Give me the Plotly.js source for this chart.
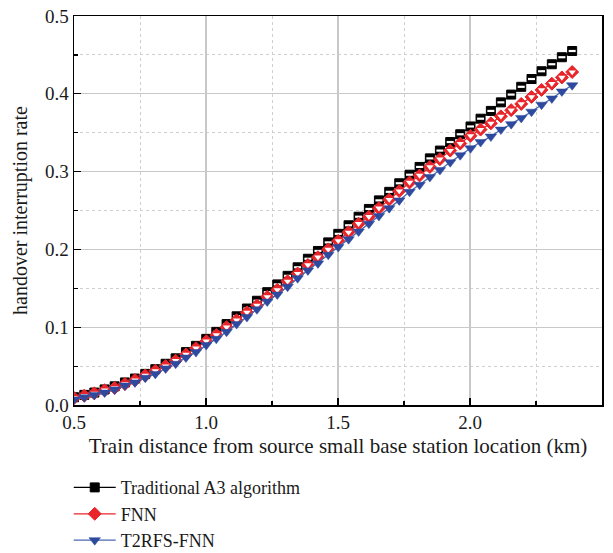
<!DOCTYPE html>
<html>
<head>
<meta charset="utf-8">
<script src="https://cdn.plot.ly/plotly-3.0.1.min.js"></script>
<style>html,body{margin:0;padding:0;background:#fff;}#chart{width:613px;height:553px;}</style>
</head>
<body>
<div id="chart"></div>
<script>
// Train distance (km)
const distance = [0.500,0.539,0.577,0.616,0.654,0.693,0.731,0.770,0.808,0.847,
  0.885,0.924,0.962,1.001,1.039,1.078,1.116,1.155,1.193,1.232,
  1.270,1.309,1.347,1.386,1.424,1.463,1.501,1.540,1.578,1.617,
  1.655,1.694,1.732,1.771,1.809,1.848,1.886,1.925,1.963,2.002,
  2.040,2.079,2.117,2.156,2.194,2.233,2.271,2.310,2.348,2.387];

const traditionalA3 = [0.010,0.013,0.016,0.020,0.024,0.029,0.034,0.040,0.046,0.053,
  0.060,0.068,0.076,0.085,0.094,0.104,0.114,0.124,0.134,0.145,
  0.155,0.166,0.177,0.188,0.198,0.209,0.220,0.231,0.242,0.252,
  0.263,0.274,0.285,0.296,0.306,0.317,0.327,0.338,0.348,0.358,
  0.368,0.378,0.389,0.399,0.409,0.419,0.429,0.438,0.447,0.455];

const fnn = [0.009,0.012,0.015,0.019,0.022,0.027,0.032,0.038,0.044,0.050,
  0.057,0.065,0.073,0.082,0.090,0.100,0.109,0.119,0.128,0.139,
  0.148,0.159,0.169,0.180,0.190,0.200,0.211,0.222,0.233,0.242,
  0.253,0.264,0.275,0.286,0.295,0.306,0.316,0.327,0.336,0.346,
  0.354,0.362,0.371,0.379,0.387,0.396,0.405,0.413,0.421,0.428];

const t2rfsFnn = [0.007,0.010,0.013,0.016,0.020,0.025,0.029,0.035,0.040,0.047,
  0.053,0.061,0.068,0.077,0.085,0.094,0.104,0.113,0.123,0.133,
  0.142,0.152,0.163,0.173,0.182,0.193,0.203,0.213,0.223,0.233,
  0.243,0.253,0.263,0.274,0.283,0.293,0.302,0.312,0.321,0.330,
  0.338,0.345,0.354,0.361,0.369,0.377,0.386,0.394,0.403,0.411];

const seriesNames = ["Traditional A3 algorithm", "FNN", "T2RFS-FNN"];
const xTitle = "Train distance from source small base station location (km)";
const yTitle = "handover interruption rate";

const serif = "Liberation Serif, Times New Roman, serif";
const RED = "#e8252b", BLUE = "#2d4a9f", BLUE_LINE = "#4a67b3";

const traces = [
  {
    x: distance, y: traditionalA3, name: seriesNames[0], legendgroup: "a3",
    type: "scatter", mode: "lines+markers",
    line: {color: "#000000", width: 1.3},
    marker: {symbol: "square", size: 9, color: "#000000",
      line: {color: "#000000", width: 1}}
  },
  { // white band inside the half-filled squares
    x: distance, y: traditionalA3, name: seriesNames[0], legendgroup: "a3", showlegend: false,
    type: "scatter", mode: "markers", hoverinfo: "skip",
    marker: {symbol: "line-ew", size: 5, color: "#ffffff",
      line: {color: "#ffffff", width: 2.2}}
  },
  {
    x: distance, y: fnn, name: seriesNames[1], legendgroup: "fnn",
    type: "scatter", mode: "lines+markers",
    line: {color: RED, width: 1.3},
    marker: {symbol: "diamond", size: 10, color: RED,
      line: {color: RED, width: 1}}
  },
  { // white lower half inside the diamonds
    x: distance, y: fnn, name: seriesNames[1], legendgroup: "fnn", showlegend: false,
    type: "scatter", mode: "markers", hoverinfo: "skip",
    marker: {symbol: "triangle-down", size: 6.5, color: "#ffffff",
      line: {color: "#ffffff", width: 0}}
  },
  {
    x: distance, y: t2rfsFnn, name: seriesNames[2], legendgroup: "t2",
    type: "scatter", mode: "lines+markers",
    line: {color: BLUE_LINE, width: 1.3},
    marker: {symbol: "triangle-down", size: 10, color: BLUE,
      line: {color: BLUE, width: 0.5}}
  }
];

const layout = {
  width: 613, height: 553,
  margin: {l: 74, r: 11, t: 16, b: 148, autoexpand: false},
  paper_bgcolor: "#ffffff", plot_bgcolor: "#ffffff",
  font: {family: serif, color: "#1a1a1a", size: 19},
  showlegend: true,
  legend: {
    x: -0.01, xanchor: "left", y: -0.165, yanchor: "top",
    font: {family: serif, size: 18, color: "#1a1a1a"},
    bgcolor: "rgba(0,0,0,0)", tracegroupgap: 0, itemwidth: 42
  },
  xaxis: {
    range: [0.5, 2.5], dtick: 0.5, tick0: 0.5, tickformat: ".1f",
    showline: true, linecolor: "#000000", linewidth: 1.5, mirror: true,
    ticks: "inside", ticklen: 7, tickwidth: 1.2, tickcolor: "#000000",
    showgrid: true, gridcolor: "#c8c8c8", gridwidth: 1.2,
    zeroline: false,
    tickfont: {family: serif, size: 19, color: "#1a1a1a"},
    minor: {dtick: 0.25, tick0: 0.5, ticks: "inside", ticklen: 4, tickcolor: "#000000",
      showgrid: true, gridcolor: "#cfcfcf", griddash: "dot", gridwidth: 1},
    title: {text: xTitle, font: {family: serif, size: 21, color: "#1a1a1a"}, standoff: 6}
  },
  yaxis: {
    range: [0, 0.5], dtick: 0.1, tick0: 0, tickformat: ".1f",
    showline: true, linecolor: "#000000", linewidth: 1.5, mirror: true,
    ticks: "inside", ticklen: 7, tickwidth: 1.2, tickcolor: "#000000",
    showgrid: true, gridcolor: "#c8c8c8", gridwidth: 1.2,
    zeroline: false,
    tickfont: {family: serif, size: 19, color: "#1a1a1a"},
    minor: {dtick: 0.05, tick0: 0, ticks: "inside", ticklen: 4, tickcolor: "#000000",
      showgrid: true, gridcolor: "#cfcfcf", griddash: "dot", gridwidth: 1},
    title: {text: yTitle, font: {family: serif, size: 20, color: "#1a1a1a"}, standoff: 12}
  }
};

Plotly.newPlot("chart", traces, layout, {displayModeBar: false, staticPlot: true});
</script>
</body>
</html>
